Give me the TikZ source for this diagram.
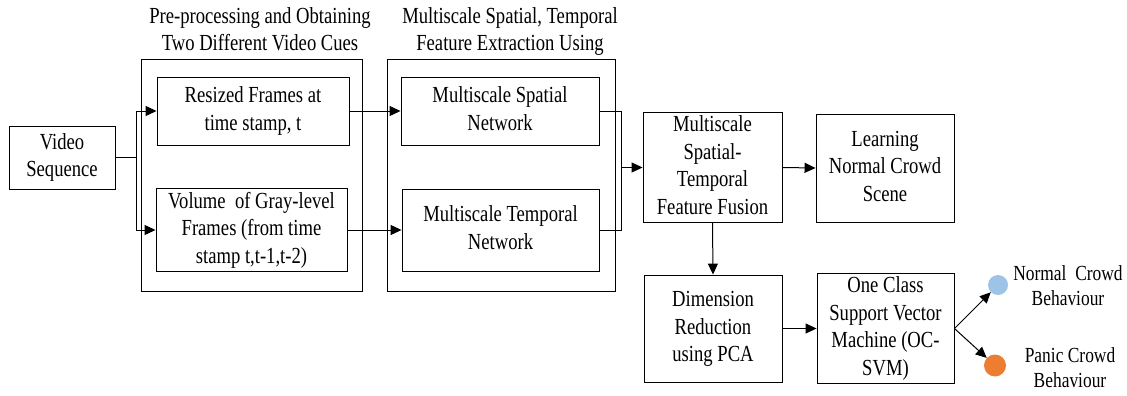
\documentclass[tikz,border=0pt]{standalone}
\usepackage{fontspec}
\usepackage{graphicx}
\setmainfont{Liberation Serif}
\usetikzlibrary{arrows.meta}
\definecolor{normalblue}{RGB}{157,195,230}
\definecolor{panicorange}{RGB}{237,125,49}
% narrow, tall lettering: horizontally condensed centred lines
\newcommand{\narrowlines}[1]{\raisebox{-2pt}{\scalebox{0.81}[1]{\begin{tabular}{@{}c@{}}#1\end{tabular}}}}
\tikzset{
  x=1pt, y=-1pt,
  box/.style={draw, line width=0.9pt, inner sep=0pt, align=center,
    font=\fontsize{23}{27.5}\selectfont},
  group/.style={draw, line width=0.9pt},
  heading/.style={align=center, inner sep=0pt, font=\fontsize{23}{27}\selectfont},
  outcome/.style={align=center, inner sep=0pt, font=\fontsize{21.5}{25}\selectfont},
  flow/.style={line width=1pt, -{Triangle[length=11pt,width=10pt]}},
  link/.style={line width=1pt},
  dot/.style={circle, inner sep=0pt, minimum size=21pt}
}
\begin{document}
\begin{tikzpicture}
\useasboundingbox (0,0) rectangle (1127,396);

% stage headings
\node[heading] (h1) at (260,32) {\narrowlines{Pre-processing and Obtaining\\Two Different\ Video Cues}};
\node[heading] (h2) at (510,32) {\narrowlines{Multiscale Spatial, Temporal\\Feature Extraction Using}};

% stage frames
\draw[group] (141,59) rectangle (362,291);
\draw[group] (387,59) rectangle (615,291);

% processing blocks
\node[box, minimum width=106pt, minimum height=63pt] (vs) at (62,157.5) {\narrowlines{Video\\Sequence}};
\node[box, minimum width=192pt, minimum height=68pt] (rf) at (253,111) {\narrowlines{Resized Frames at\\time stamp, t}};
\node[box, minimum width=191pt, minimum height=82pt] (vg) at (251.5,230) {\narrowlines{Volume\ \ of Gray-level\\Frames (from time\\stamp t,t-1,t-2)}};
\node[box, minimum width=198pt, minimum height=68pt] (sn) at (500,111) {\narrowlines{Multiscale Spatial\\Network}};
\node[box, minimum width=197pt, minimum height=82pt] (tn) at (500.5,230) {\narrowlines{Multiscale Temporal\\Network}};
\node[box, minimum width=139pt, minimum height=109pt] (fu) at (712.5,167.5) {\narrowlines{Multiscale\\Spatial-\\Temporal\\Feature Fusion}};
\node[box, minimum width=138pt, minimum height=108pt] (ln) at (885,168) {\narrowlines{Learning\\Normal Crowd\\Scene}};
\node[box, minimum width=138pt, minimum height=107pt] (dr) at (713,328.5) {\narrowlines{Dimension\\Reduction\\using PCA}};
\node[box, minimum width=137pt, minimum height=107pt] (oc) at (885.5,328.5) {\narrowlines{One Class\\Support Vector\\Machine (OC-\\SVM)}};

% outcomes
\node[dot, fill=normalblue, minimum size=20pt] (nb) at (998,285) {};
\node[dot, fill=panicorange, minimum size=22pt] (pb) at (995,365.5) {};
\node[outcome] (nt) at (1068,288) {\narrowlines{Normal\ \ Crowd\\Behaviour}};
\node[outcome] (pt) at (1070,370) {\narrowlines{Panic Crowd\\Behaviour}};

% connectors
\coordinate (split) at (136,157.5);
\draw[link] (vs.east) -- (split);
\draw[flow] (split) |- (rf.west);
\draw[flow] (split) |- (vg.west);
\draw[flow] (rf.east) -- (sn.west);
\draw[flow] (vg.east) -- (tn.west);

\coordinate (merge) at (621,167.5);
\draw[link] (sn.east) -| (merge);
\draw[link] (tn.east) -| (merge);
\draw[flow] (merge) -- (fu.west);

\draw[flow] (fu.east) -- (ln.west);
\draw[flow] (fu.south) -- (dr.north);
\draw[flow] (dr.east) -- (oc.west);
\draw[flow] (oc.east) -- (nb);
\draw[flow] (oc.east) -- (pb);
\end{tikzpicture}
\end{document}
